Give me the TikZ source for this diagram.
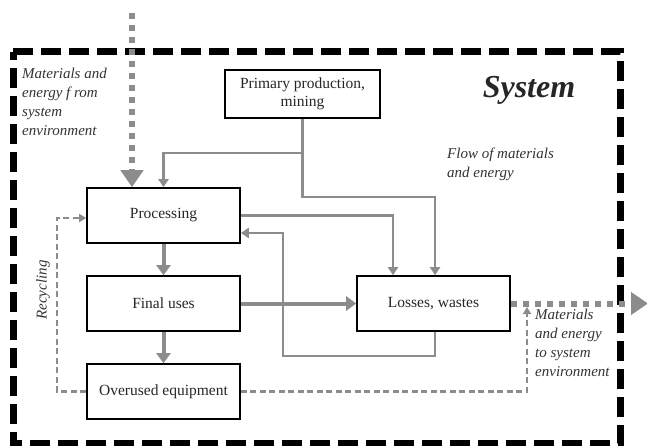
\documentclass[tikz,border=0pt]{standalone}
\usepackage{fontspec}
\setmainfont{Liberation Serif}
\usetikzlibrary{arrows.meta}
\definecolor{flowgray}{RGB}{140,140,140}
\begin{document}
\begin{tikzpicture}[x=1pt,y=-1pt,
  box/.style={draw=black, line width=1.6pt, fill=white, minimum width=153pt, minimum height=55pt, inner sep=2pt, font=\fontsize{15.5}{18}\selectfont, align=center, text=black!85},
  flow/.style={draw=flowgray, line width=2.8pt, -{Triangle[length=8pt,width=10pt]}},
  thick flow/.style={draw=flowgray, line width=4pt, -{Triangle[length=10pt,width=14pt]}},
  dash flow/.style={draw=flowgray, line width=2.2pt, dash pattern=on 6pt off 3.5pt, -{Triangle[length=7pt,width=8pt]}},
  big dotted/.style={draw=flowgray, line width=6pt, dash pattern=on 6pt off 6pt, -{Triangle[length=17pt,width=22pt]}},
  frame/.style={draw=black, line width=7pt, dash pattern=on 20pt off 8pt},
  note/.style={font=\fontsize{15}{19}\selectfont\itshape, align=left, inner sep=0pt, text=black!80}
]
\useasboundingbox (0,0) rectangle (647,446);
% system frame
\draw[frame] (13,52) -- (620,52) -- (620,443) -- (13,443) -- cycle;

% boxes
\node[box, minimum width=155pt, minimum height=48pt] (prim) at (302.5,94) {Primary production,\\mining};
\node[box] (proc) at (163.5,215.5) {Processing};
\node[box] (fin) at (163.5,303.5) {Final uses};
\node[box] (over) at (163.5,391.5) {Overused equipment};
\node[box] (loss) at (433.5,303.5) {Losses, wastes};

% input from environment
\coordinate (in) at (132,13);
\draw[big dotted] (in) -- ([xshift=-31.5pt]proc.north);

% primary production flows
\coordinate (j1) at (302.5,153);
\draw[flow] (prim.south) -- (j1) -| (proc.north);
\draw[flow] (j1) -- (302.5,197) -| ([xshift=1.5pt]loss.north);
\draw[flow] (proc.east) -| ([xshift=-40.5pt]loss.north);
\draw[flow] ([xshift=1.5pt]loss.south) -- (435,356) -| (283,233) -- ([yshift=-17.5pt]proc.east);

% main chain
\draw[thick flow] (proc.south) -- (fin.north);
\draw[thick flow] (fin.south) -- (over.north);
\draw[thick flow] (fin.east) -- (loss.west);

% recycling and output dashed
\draw[dash flow] (over.west) -- (57,391.5) |- ([yshift=-2.5pt]proc.west);
\coordinate (outj) at (527,307);
\draw[dash flow] (over.east) -| (outj);

% output to environment
\coordinate (out) at (648,303.5);
\draw[big dotted] (loss.east) -- (out);

% labels
\node[note, anchor=north west] (lin) at (22,68) {Materials and\\energy f rom\\system\\environment};
\node[font=\fontsize{32}{34}\selectfont\bfseries\itshape, text=black!85] (sys) at (529,90) {System};
\node[note, anchor=north west] (lflow) at (447,148) {Flow of materials\\and energy};
\node[note, rotate=90] (lrec) at (43,290) {Recycling};
\node[note, anchor=north west] (lout) at (535,309) {Materials\\and energy\\to system\\environment};
\end{tikzpicture}
\end{document}
